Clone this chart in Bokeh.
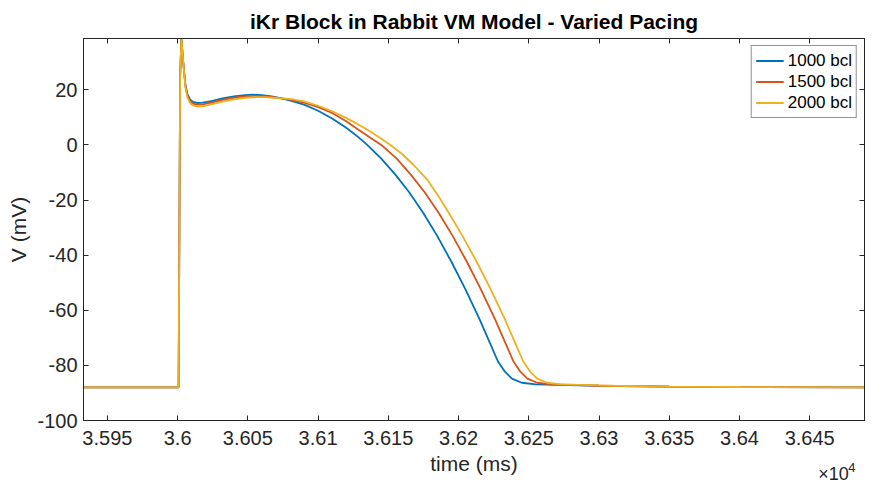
from bokeh.plotting import figure
from bokeh.models import Range1d, FixedTicker, LinearAxis, Legend, LegendItem
from bokeh.embed import file_html
from bokeh.resources import INLINE

# ---- data (time in ms, V in mV) ----
t_1000 = [35933, 36000.7, 36001.8, 36002.7, 36004, 36005.5, 36007, 36009, 36011, 36014, 36018,
          36024, 36032, 36040, 36048, 36054, 36060, 36067, 36074, 36081, 36090, 36100, 36110, 36120,
          36128, 36135, 36145, 36155, 36165, 36175, 36185, 36195, 36205, 36215, 36222, 36228,
          36233, 36238, 36245, 36255, 36270, 36300, 36350, 36400, 36489]
v_1000 = [-88, -88, 25, 38.5, 30, 22, 18.4, 16.4, 15.6, 15.2, 15.3,
          15.9, 16.9, 17.6, 18.05, 18.2, 18.05, 17.6, 16.9, 16.0, 14.6, 12.4, 9.6, 6.2,
          3.1, 0.0, -5.0, -10.8, -17.3, -24.8, -33.2, -42.5, -52.5, -63.3, -71.5, -78.5,
          -82.3, -84.8, -86.3, -86.9, -87.1, -87.4, -87.7, -87.85, -88.0]

t_1500 = [35933, 36000.7, 36001.8, 36002.7, 36004, 36005.5, 36007, 36009, 36011, 36014, 36018,
          36024, 36032, 36040, 36048, 36055, 36062, 36068, 36074, 36081, 36090, 36100, 36110, 36120,
          36128, 36137, 36145, 36156, 36166, 36176, 36186, 36196, 36206, 36216, 36226, 36233,
          36239, 36244, 36249, 36256, 36266, 36281, 36300, 36350, 36400, 36489]
v_1500 = [-88, -88, 25, 38.5, 30, 21.5, 17.8, 15.8, 15.0, 14.6, 14.7,
          15.3, 16.3, 17.1, 17.6, 17.8, 17.6, 17.3, 16.9, 16.3, 15.3, 13.7, 11.6, 8.6,
          5.8, 2.7, 0.0, -5.0, -10.8, -17.3, -24.8, -33.2, -42.5, -52.5, -63.3, -71.5,
          -78.5, -82.3, -84.8, -86.3, -86.9, -87.1, -87.4, -87.7, -87.85, -88.0]

t_2000 = [35933, 36000.7, 36001.8, 36002.7, 36004, 36005.5, 36007, 36009, 36011, 36014, 36018,
          36024, 36032, 36040, 36048, 36055, 36062, 36068, 36074, 36081, 36090, 36100, 36110, 36120,
          36128, 36136, 36144, 36152, 36160, 36168, 36178, 36186, 36193, 36203, 36213, 36223,
          36233, 36240, 36246, 36251, 36256, 36263, 36273, 36288, 36310, 36350, 36400, 36489]
v_2000 = [-88, -88, 25, 38.5, 30, 21, 17.2, 15.1, 14.3, 13.9, 14.0,
          14.7, 15.7, 16.5, 17.1, 17.35, 17.3, 17.1, 16.9, 16.6, 15.8, 14.2, 12.2, 9.8,
          7.6, 5.2, 2.6, -0.2, -3.4, -7.3, -12.8, -18.8, -24.6, -33.2, -42.5, -52.5,
          -63.3, -71.5, -78.5, -82.3, -84.8, -86.3, -86.9, -87.1, -87.4, -87.7, -87.85, -88.0]

series_names = ["1000 bcl", "1500 bcl", "2000 bcl"]
series_colors = ["#0072BD", "#D95319", "#EDB120"]

x_ticks = [35950, 36000, 36050, 36100, 36150, 36200, 36250, 36300, 36350, 36400, 36450]
x_tick_labels = ["3.595", "3.6", "3.605", "3.61", "3.615", "3.62", "3.625", "3.63", "3.635", "3.64", "3.645"]
y_ticks = [-100, -80, -60, -40, -20, 0, 20]
y_tick_labels = ["-100", "-80", "-60", "-40", "-20", "0", "20"]
exp_base_text = "×10"
exp_power_text = "4"

FONT = "Liberation Sans"
AX = "#262626"

X0, X1 = 35933, 36489
p = figure(width=873, height=486, output_backend="svg", toolbar_location=None,
           x_range=Range1d(X0, X1), y_range=Range1d(-100, 38.6),
           min_border_left=83, min_border_right=9, min_border_top=38, min_border_bottom=66,
           title="iKr Block in Rabbit VM Model - Varied Pacing")
p.title.text_font = FONT
p.title.text_font_size = "21px"
p.title.text_font_style = "bold"
p.title.align = "center"
p.title.vertical_align = "middle"
p.title.text_color = "#000000"
p.grid.visible = False
p.outline_line_color = AX
p.background_fill_color = "white"

renderers = []
for t, v, c in zip([t_1000, t_1500, t_2000], [v_1000, v_1500, v_2000], series_colors):
    renderers.append(p.line(t, v, line_color=c, line_width=1.8))

xa = p.xaxis[0]
xa.ticker = FixedTicker(ticks=x_ticks)
xa.major_label_overrides = {k: s for k, s in zip(x_ticks, x_tick_labels)}
xa.axis_label = "time (ms)"
ya = p.yaxis[0]
ya.ticker = FixedTicker(ticks=y_ticks)
ya.major_label_overrides = {k: s for k, s in zip(y_ticks, y_tick_labels)}
ya.axis_label = "V (mV)"
for a in (xa, ya):
    a.axis_line_color = AX
    a.major_tick_line_color = AX
    a.major_tick_in = 5
    a.major_tick_out = 0
    a.minor_tick_line_color = None
    a.major_label_text_font = FONT
    a.major_label_text_font_size = "20px"
    a.major_label_text_color = AX
    a.axis_label_text_font = FONT
    a.axis_label_text_font_size = "21px"
    a.axis_label_text_font_style = "normal"
    a.axis_label_text_color = AX
xa.major_label_standoff = 10
xa.axis_label_standoff = 4
ya.major_label_standoff = 6
ya.axis_label_standoff = 4

ta = LinearAxis(ticker=FixedTicker(ticks=x_ticks), major_label_overrides={k: "" for k in x_ticks},
                major_tick_in=5, major_tick_out=0, minor_tick_line_color=None,
                axis_line_color=AX, major_tick_line_color=AX, major_label_standoff=0)
ra = LinearAxis(ticker=FixedTicker(ticks=y_ticks), major_label_overrides={k: "" for k in y_ticks},
                major_tick_in=5, major_tick_out=0, minor_tick_line_color=None,
                axis_line_color=AX, major_tick_line_color=AX, major_label_standoff=0)
p.add_layout(ta, "above")
p.add_layout(ra, "right")

# "x10^4" multiplier, drawn as tick-less helper axes under the main x axis
px_per_ms = 781 / (X1 - X0)
pos_base = round(X1 - 31 / px_per_ms)
pos_pow = round(X1 - 12 / px_per_ms)
ea = LinearAxis(ticker=FixedTicker(ticks=[pos_base]), major_label_overrides={pos_base: exp_base_text},
                major_label_text_font=FONT, major_label_text_font_size="18px", major_label_text_color=AX,
                major_label_standoff=-14, axis_line_color=None, major_tick_line_color=None,
                minor_tick_line_color=None, major_tick_in=0, major_tick_out=0)
eb = LinearAxis(ticker=FixedTicker(ticks=[pos_pow]), major_label_overrides={pos_pow: exp_power_text},
                major_label_text_font=FONT, major_label_text_font_size="13px", major_label_text_color=AX,
                major_label_standoff=-24, axis_line_color=None, major_tick_line_color=None,
                minor_tick_line_color=None, major_tick_in=0, major_tick_out=0)
p.add_layout(ea, "below")
p.add_layout(eb, "below")

legend = Legend(items=[LegendItem(label=n, renderers=[r]) for n, r in zip(series_names, renderers)],
                location="top_right", margin=7, padding=4, spacing=0,
                label_text_font=FONT, label_text_font_size="17px", label_text_color="#000000",
                glyph_width=28, glyph_height=21, label_height=21, label_standoff=4,
                border_line_color=AX, border_line_width=1, background_fill_color="white")
p.add_layout(legend)

open("out.html", "w").write(file_html(p, INLINE))
